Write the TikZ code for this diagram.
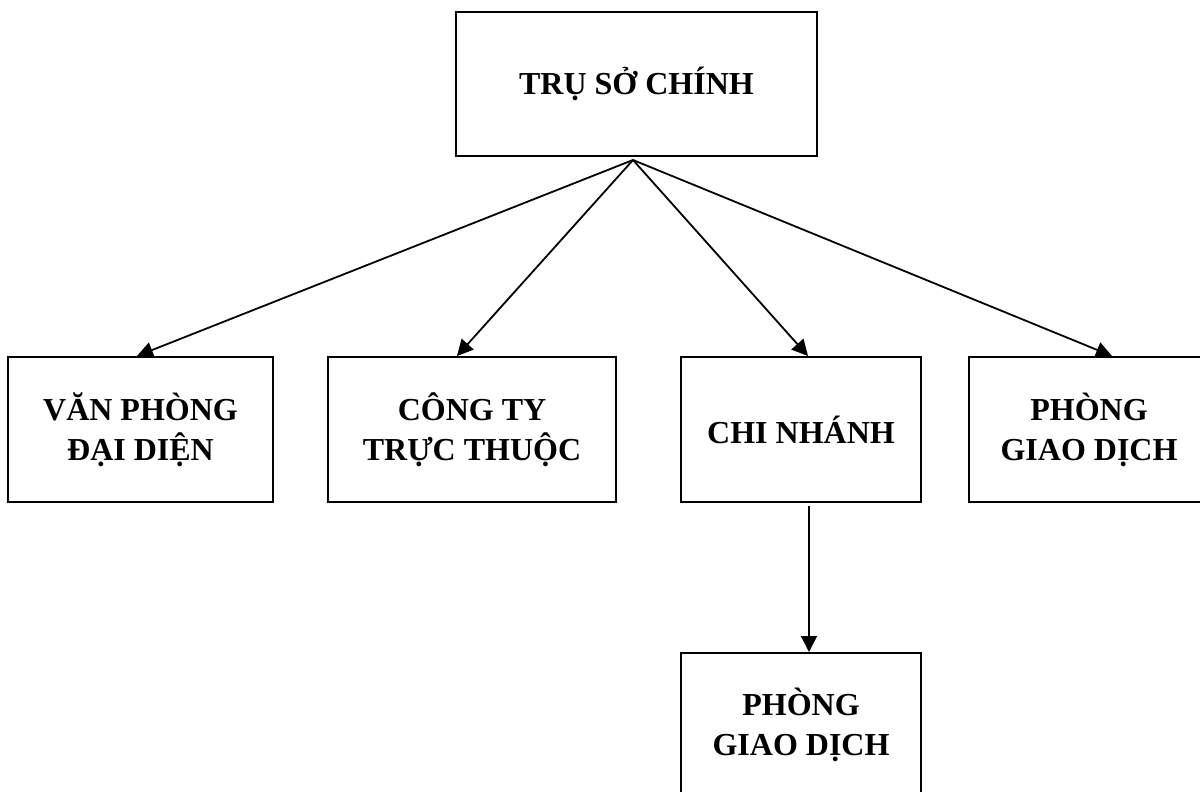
\documentclass[tikz,border=0pt]{standalone}
\usepackage{fontspec}
\setmainfont{Liberation Serif}
\usetikzlibrary{arrows.meta}
\begin{document}
\begin{tikzpicture}[x=0.5pt,y=-0.5pt,
  box/.style={draw,line width=1pt,rectangle,inner sep=0pt,align=center,
    minimum height=72.5pt,font=\bfseries\fontsize{16}{20}\selectfont},
  arr/.style={line width=0.9pt,-{Triangle[length=8pt,width=8pt]}}]
\useasboundingbox (0,0) rectangle (1200,792);
\clip (0,0) rectangle (1200,792);
\fill[white] (0,0) rectangle (1200,792);
\node[box,minimum width=180.5pt,minimum height=72pt] (top) at (636.5,84) {TRỤ SỞ CHÍNH};
\node[box,minimum width=132.5pt] (b1) at (140.5,429.5) {VĂN PHÒNG\\ĐẠI DIỆN};
\node[box,minimum width=144pt] (b2) at (472,429.5) {CÔNG TY\\TRỰC THUỘC};
\node[box,minimum width=120pt] (b3) at (801,429.5) {CHI NHÁNH};
\node[box,minimum width=120pt] (b4) at (1089,429.5) {PHÒNG\\GIAO DỊCH};
\node[box,minimum width=120pt,minimum height=72pt] (b5) at (801,725) {PHÒNG\\GIAO DỊCH};
\coordinate (apex) at ([xshift=-1.75pt,yshift=-1.5pt]top.south);
\draw[arr] (apex) -- ([xshift=-1.75pt]b1.north);
\draw[arr] (apex) -- ([xshift=-7.5pt]b2.north);
\draw[arr] (apex) -- ([xshift=3.5pt]b3.north);
\draw[arr] (apex) -- ([xshift=11.5pt]b4.north);
\draw[arr,shorten <=1.5pt] ([xshift=4pt]b3.south) -- ([xshift=4pt]b5.north);
\end{tikzpicture}
\end{document}
